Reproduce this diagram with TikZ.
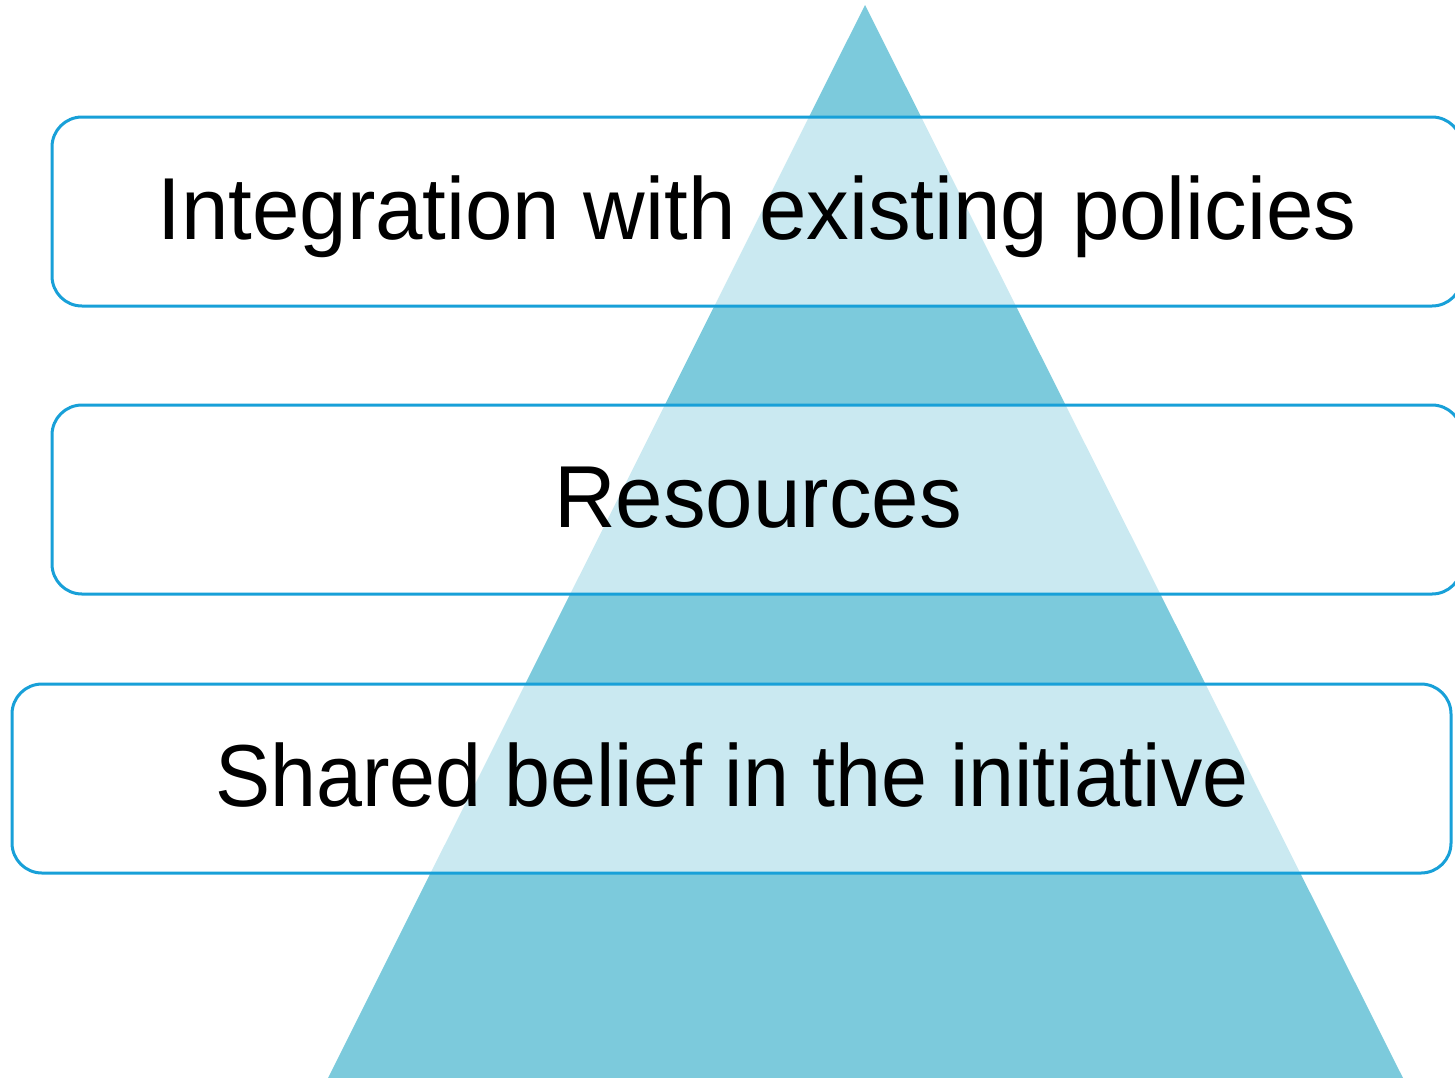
\documentclass[tikz,border=0pt]{standalone}
\usepackage{fontspec}
\usepackage{graphicx}
\setmainfont{Liberation Sans}
\definecolor{tri}{HTML}{7CCADC}
\definecolor{boxline}{HTML}{18A0D8}
\begin{document}
\begin{tikzpicture}[x=1pt,y=-1pt,
  layerbox/.style={draw=boxline,line width=3pt,fill=white,fill opacity=0.6,rounded corners=30pt},
  label/.style={anchor=base,font=\fontsize{88}{100}\selectfont,text=black,inner sep=0pt}]
\useasboundingbox (0,0) rectangle (1455,1077);
\fill[tri] (865,5) coordinate (apex) -- (327,1080) coordinate (bl) -- (1404,1080) coordinate (br) -- cycle;
\draw[layerbox] (52,117) rectangle (1462,306);
\draw[layerbox] (52,405) rectangle (1462,594);
\draw[layerbox] (12,684) rectangle (1451,873);
\node[label] (top) at (757,239) {\scalebox{0.969}[1]{Integration with existing policies}};
\node[label] (mid) at (758,527) {\scalebox{0.969}[1]{Resources}};
\node[label] (bot) at (732,806) {\scalebox{0.939}[1]{Shared belief in the initiative}};
\end{tikzpicture}
\end{document}
